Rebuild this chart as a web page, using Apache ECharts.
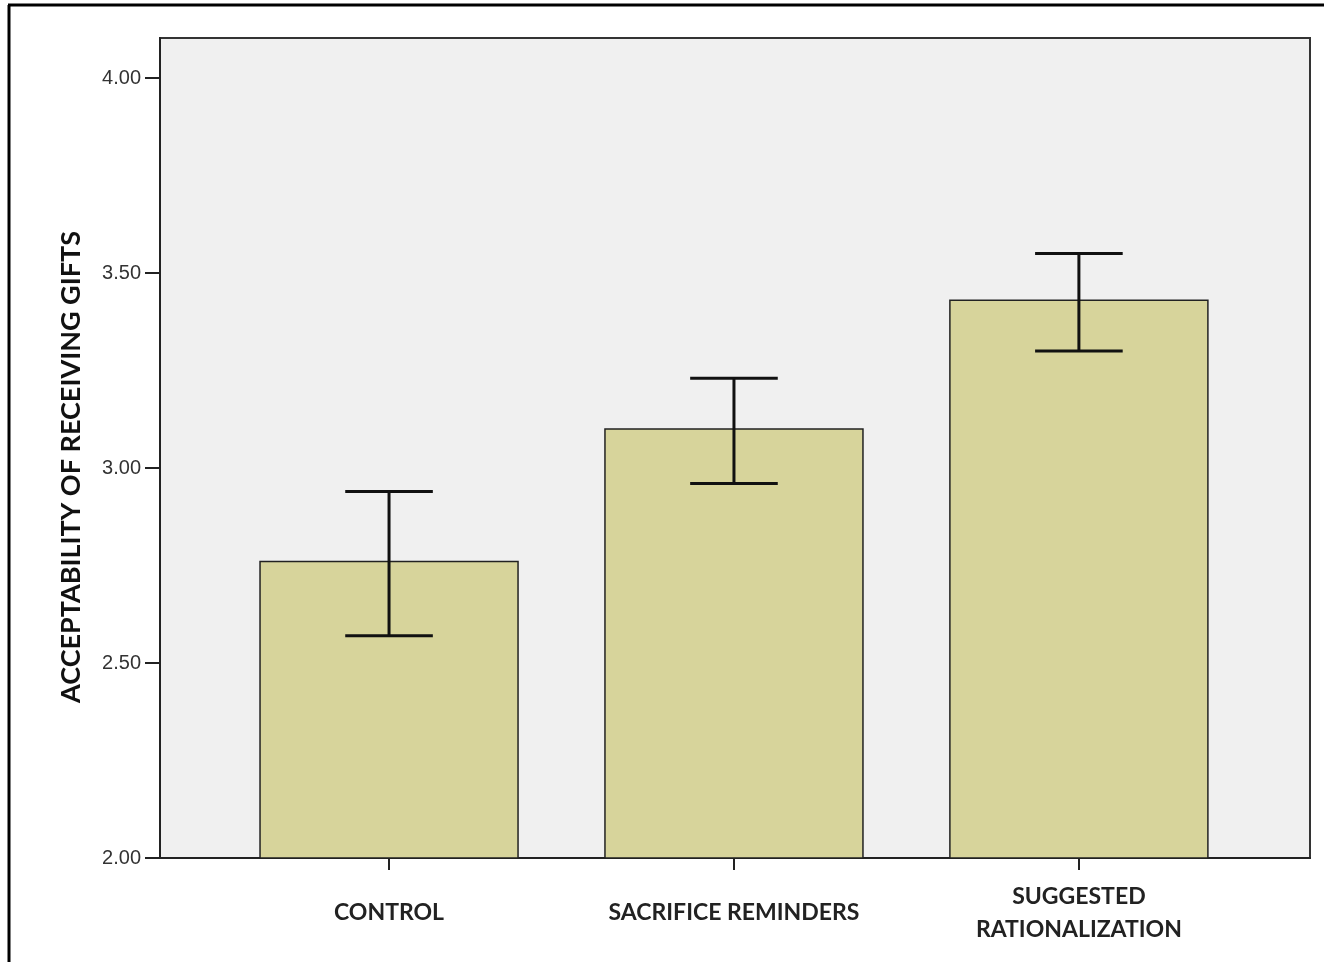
<!DOCTYPE html>
<html>
<head>
<meta charset="utf-8">
<script src="https://cdn.jsdelivr.net/npm/echarts@6/dist/echarts.min.js"></script>
<style>
html,body{margin:0;padding:0;background:#fff;}
#chart{width:1324px;height:962px;}
</style>
</head>
<body>
<div id="chart"></div>
<script>
const categories = ['CONTROL', 'SACRIFICE REMINDERS', 'SUGGESTED\nRATIONALIZATION'];
const means = [2.76, 3.10, 3.43];
const errLow = [2.57, 2.96, 3.30];
const errHigh = [2.94, 3.23, 3.55];
const yTicks = [2.0, 2.5, 3.0, 3.5, 4.0];
const yTickLabels = ['2.00', '2.50', '3.00', '3.50', '4.00'];

const chart = echarts.init(document.getElementById('chart'));

const barData = means.map((m, i) => [i, m]);
const errData = means.map((m, i) => [i, errLow[i], errHigh[i]]);

const option = {
  backgroundColor: '#ffffff',
  animation: false,
  graphic: [
    {type: 'line', shape: {x1: 8, y1: 5, x2: 1324, y2: 5}, style: {stroke: '#000', lineWidth: 3}, z: 100},
    {type: 'line', shape: {x1: 9, y1: 5, x2: 9, y2: 962}, style: {stroke: '#000', lineWidth: 3}, z: 100}
  ],
  grid: {
    left: 160, top: 38, right: 14, bottom: 104,
    show: true, backgroundColor: '#f0f0f0', borderColor: '#333', borderWidth: 2
  },
  xAxis: {
    type: 'value', min: -0.664, max: 2.67,
    splitLine: {show: false},
    axisLine: {show: true, onZero: false, lineStyle: {color: '#222', width: 2}},
    axisTick: {show: true, customValues: [0, 1, 2], length: 12, lineStyle: {color: '#222', width: 2}},
    axisLabel: {
      customValues: [0, 1, 2],
      formatter: v => categories[Math.round(v)],
      margin: 55, verticalAlign: 'middle', align: 'center',
      fontFamily: 'Lato', fontWeight: 'bold', fontSize: 23, lineHeight: 33, color: '#222'
    }
  },
  yAxis: {
    type: 'value', min: 2, max: 4.1026,
    splitLine: {show: false},
    name: 'ACCEPTABILITY OF RECEIVING GIFTS',
    nameLocation: 'middle', nameRotate: 90, nameGap: 75,
    nameTextStyle: {fontFamily: 'Lato', fontWeight: 'bold', fontSize: 27, color: '#111', padding: [0, 38, 0, 0]},
    axisLine: {show: true, onZero: false, lineStyle: {color: '#222', width: 2}},
    axisTick: {show: true, customValues: yTicks, length: 15, lineStyle: {color: '#222', width: 2}},
    axisLabel: {
      customValues: yTicks,
      formatter: v => yTickLabels[yTicks.findIndex(t => Math.abs(t - v) < 1e-6)],
      margin: 19, fontFamily: 'Liberation Sans', fontSize: 20, color: '#333'
    }
  },
  series: [
    {
      type: 'custom',
      data: barData,
      renderItem: function (params, api) {
        const x = api.value(0), y = api.value(1);
        const halfW = 0.374;
        const p1 = api.coord([x - halfW, y]);
        const p2 = api.coord([x + halfW, 2]);
        return {
          type: 'rect',
          shape: {x: p1[0], y: p1[1], width: p2[0] - p1[0], height: p2[1] - p1[1]},
          style: {fill: '#d7d49b', stroke: '#222', lineWidth: 1.5}
        };
      },
      z: 2
    },
    {
      type: 'custom',
      data: errData,
      renderItem: function (params, api) {
        const x = api.value(0), lo = api.value(1), hi = api.value(2);
        const cap = 0.127;
        const top = api.coord([x, hi]);
        const bot = api.coord([x, lo]);
        const tl = api.coord([x - cap, hi]);
        const tr = api.coord([x + cap, hi]);
        const bl = api.coord([x - cap, lo]);
        const br = api.coord([x + cap, lo]);
        const st = {stroke: '#111', lineWidth: 3};
        return {
          type: 'group',
          children: [
            {type: 'line', shape: {x1: top[0], y1: top[1], x2: bot[0], y2: bot[1]}, style: st},
            {type: 'line', shape: {x1: tl[0], y1: tl[1], x2: tr[0], y2: tr[1]}, style: st},
            {type: 'line', shape: {x1: bl[0], y1: bl[1], x2: br[0], y2: br[1]}, style: st}
          ]
        };
      },
      z: 3
    }
  ]
};
chart.setOption(option);
</script>
</body>
</html>
